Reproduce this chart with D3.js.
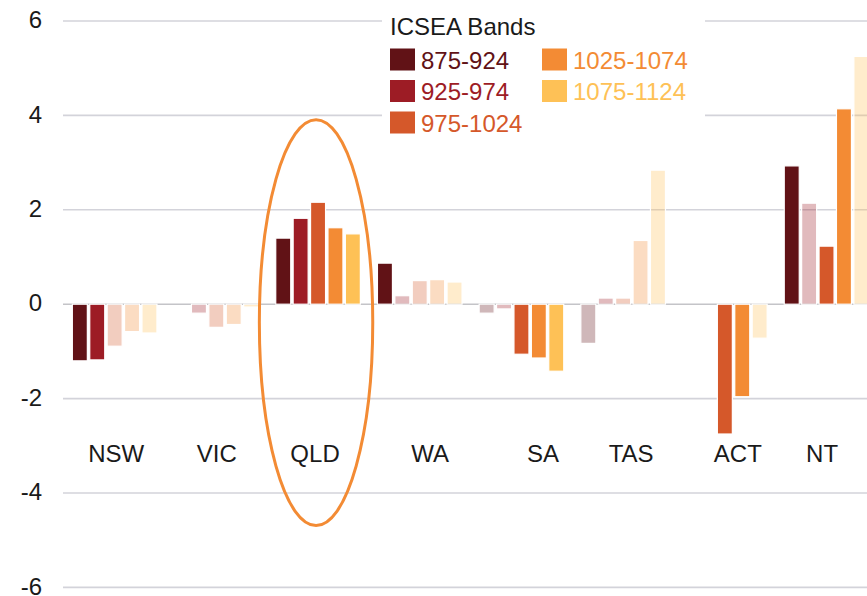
<!DOCTYPE html>
<html>
<head>
<meta charset="utf-8">
<script src="https://cdn.jsdelivr.net/npm/d3@7"></script>
<style>
  html, body { margin: 0; padding: 0; background: #fff; }
  svg { display: block; }
  text { font-family: "Liberation Sans", Arial, sans-serif; }
</style>
</head>
<body>
<svg id="chart" width="867" height="596"></svg>
<script>
// ---- data ----
const states = ["NSW", "VIC", "QLD", "WA", "SA", "TAS", "ACT", "NT"];
const bands = ["875-924", "925-974", "975-1024", "1025-1074", "1075-1124"];
const bandColors = ["#611216", "#9d1c25", "#d5582a", "#f38b34", "#fec156"];
const yTicks = [-6, -4, -2, 0, 2, 4, 6];
const yTickLabels = ["-6", "-4", "-2", "0", "2", "4", "6"];

// values per ICSEA band (one entry per state, same order as states)
const band875  = [-1.20, 0.00, 1.40, 0.87, -0.19, -0.83, 0.00, 2.93];
const band925  = [-1.18, -0.19, 1.82, 0.18, -0.10, 0.13, 0.00, 2.14];
const band975  = [-0.89, -0.49, 2.16, 0.50, -1.06, 0.13, -2.75, 1.23];
const band1025 = [-0.58, -0.43, 1.62, 0.52, -1.14, 1.35, -1.96, 4.14];
const band1075 = [-0.61, -0.06, 1.49, 0.47, -1.42, 2.84, -0.72, 5.25];
// 1 = strong (solid) bar, 0 = faded bar
const sig875  = [1, 0, 1, 1, 0, 0, 0, 1];
const sig925  = [1, 0, 1, 0, 0, 0, 0, 0];
const sig975  = [0, 0, 1, 0, 1, 0, 1, 1];
const sig1025 = [0, 0, 1, 0, 1, 0, 1, 1];
const sig1075 = [0, 0, 1, 0, 1, 0, 0, 0];

const highlight = { state: "QLD", top: 3.91, bottom: -4.69 };

const seriesValues = [band875, band925, band975, band1025, band1075];
const seriesSig = [sig875, sig925, sig975, sig1025, sig1075];

// ---- layout ----
const svg = d3.select("#chart");
const W = 867, H = 596;
const plotLeft = 63;
// horizontal nudges of the state labels relative to their group centre (px)
const labelNudge = { NSW: 1.5, VIC: 0.5, QLD: -3, WA: 10.5, SA: 21.5, TAS: 8, ACT: 13, NT: -4.5 };

const y = d3.scaleLinear().domain([-6, 6]).range([587.4, 21]);
const x = d3.scaleBand().domain(states).range([63.8, 877.4])
  .paddingInner(0.168).paddingOuter(0.084);
const xi = d3.scaleBand().domain(bands).range([0, x.bandwidth()])
  .paddingInner(0.138).paddingOuter(0);
const color = d3.scaleOrdinal().domain(bands).range(bandColors);

// gridlines
svg.append("g").selectAll("line").data(yTicks).join("line")
  .attr("x1", plotLeft).attr("x2", W)
  .attr("y1", d => y(d)).attr("y2", d => y(d))
  .attr("stroke", d => d === 0 ? "#c4c4c8" : "#d3d3da")
  .attr("stroke-width", 1.6);

// y tick labels
svg.append("g").selectAll("text").data(yTicks).join("text")
  .attr("x", 42).attr("y", d => y(d)).attr("dy", "0.3em")
  .attr("text-anchor", "end")
  .attr("font-size", 24).attr("fill", "#1a1a1a")
  .text((d, i) => yTickLabels[i]);

// bars
const rows = [];
states.forEach((s, si) => {
  bands.forEach((b, bi) => {
    rows.push({ state: s, band: b, value: seriesValues[bi][si], sig: seriesSig[bi][si] });
  });
});

svg.append("g").selectAll("rect").data(rows.filter(d => d.value !== 0)).join("rect")
  .attr("x", d => x(d.state) + xi(d.band))
  .attr("width", xi.bandwidth())
  .attr("y", d => y(Math.max(0, d.value)))
  .attr("height", d => Math.abs(y(d.value) - y(0)))
  .attr("fill", d => color(d.band))
  .attr("fill-opacity", d => d.sig ? 1 : 0.3)
  .attr("stroke", "#fff")
  .attr("stroke-width", 1.2);

// state labels
svg.append("g").selectAll("text").data(states).join("text")
  .attr("x", d => x(d) + x.bandwidth() / 2 + labelNudge[d])
  .attr("y", 461.5)
  .attr("text-anchor", "middle")
  .attr("font-size", 24).attr("fill", "#1a1a1a")
  .text(d => d);

// highlight ellipse
svg.append("ellipse")
  .attr("cx", x(highlight.state) + x.bandwidth() / 2 - 2)
  .attr("cy", (y(highlight.top) + y(highlight.bottom)) / 2)
  .attr("rx", 56.7)
  .attr("ry", (y(highlight.bottom) - y(highlight.top)) / 2)
  .attr("fill", "none")
  .attr("stroke", "#f38b34")
  .attr("stroke-width", 3);

// legend
const lg = svg.append("g");
lg.append("rect").attr("x", 382).attr("y", 0).attr("width", 323).attr("height", 142).attr("fill", "#fff");
lg.append("text").attr("x", 390).attr("y", 35)
  .attr("font-size", 24).attr("fill", "#1a1a1a").text("ICSEA Bands");
const legendPos = [
  { cx: 390, ty: 48.5 }, { cx: 390, ty: 80 }, { cx: 390, ty: 111.5 },
  { cx: 542, ty: 48.5 }, { cx: 542, ty: 80 }
];
const items = lg.selectAll("g.item").data(bands).join("g").attr("class", "item")
  .attr("transform", (d, i) => `translate(${legendPos[i].cx},${legendPos[i].ty})`);
items.append("rect").attr("width", 25).attr("height", 22).attr("fill", d => color(d));
items.append("text").attr("x", 31).attr("y", 20)
  .attr("font-size", 24).attr("fill", d => color(d)).text(d => d);
</script>
</body>
</html>
